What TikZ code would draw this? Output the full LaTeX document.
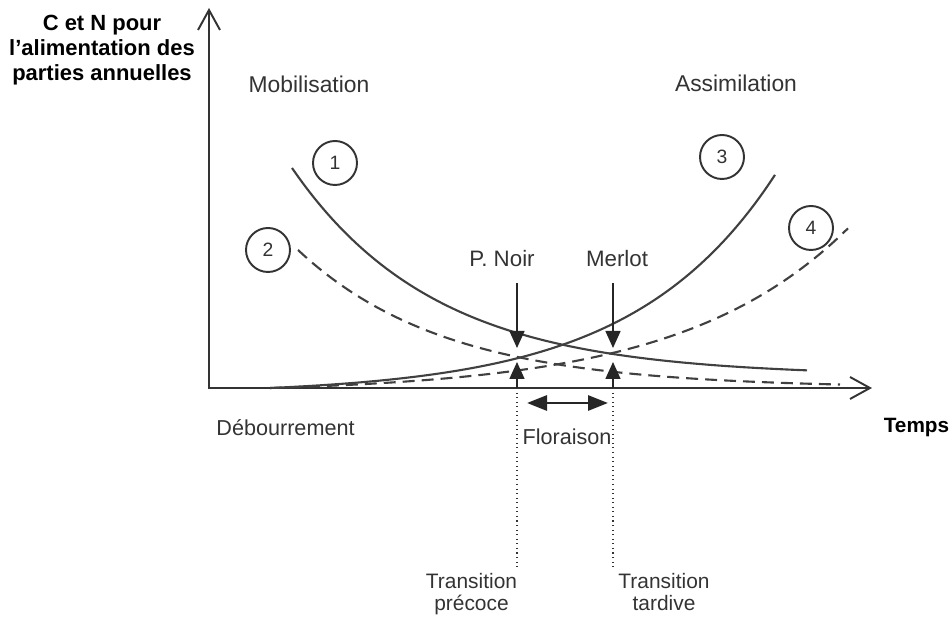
\documentclass[tikz,border=0pt]{standalone}
\usepackage{fontspec}
\setmainfont{Liberation Sans}
\usetikzlibrary{arrows.meta}

\begin{document}
\begin{tikzpicture}[x=0.2cm, y=0.2cm,
    axe/.style={line width=1.1pt, black!80, {Straight Barb[length=0.4cm, width=0.44cm]}-{Straight Barb[length=0.4cm, width=0.44cm]}},
    courbe/.style={line width=1.2pt, black!75, smooth, samples=80},
    tirets/.style={courbe, dash pattern=on 6.8pt off 4pt},
    numero/.style={circle, draw=black!80, line width=1.1pt, minimum size=0.88cm, inner sep=0pt, text=black!80, font=\fontsize{11}{12}\selectfont},
    etiquette/.style={inner sep=0pt, anchor=base, text=black!80, font=\fontsize{12.3}{14}\selectfont},
    fleche/.style={line width=0.9pt, black!85, -{Triangle[length=0.34cm, width=0.3cm]}},
    floraison/.style={line width=1.7pt, black!85, {Triangle[length=0.4cm, width=0.3cm]}-{Triangle[length=0.4cm, width=0.3cm]}},
    repere/.style={line width=0.6pt, black!80, dotted}]

    \useasboundingbox (0,0) rectangle (95.2,62);

    % Axes
    \coordinate (O) at (20.9,23.2);
    \coordinate (ytop) at (20.9,61.2);
    \coordinate (xend) at (87.2,23.2);
    \draw[axe] (ytop) -- (O) -- (xend);
    \node[anchor=north, align=center, inner sep=0pt, font=\bfseries\fontsize{12.5}{14.2}\selectfont] (titre) at (10.2,60.5)
        {C et N pour\\l’alimentation des\\parties annuelles};
    \node[etiquette, font=\bfseries\fontsize{11.8}{14}\selectfont, text=black] (temps) at (91.65,18.7) {Temps};
    \node[etiquette] (debourrement) at (28.55,18.4) {Débourrement};

    % Phases
    \node[etiquette, font=\fontsize{13}{15}\selectfont] (mobilisation) at (30.9,52.7) {Mobilisation};
    \node[etiquette, font=\fontsize{13}{15}\selectfont] (assimilation) at (73.6,52.8) {Assimilation};

    % Courbes
    \draw[courbe] plot[domain=29.2:80.7] (\x, {24.4+20.8*exp(-0.07*(\x-29.2))});
    \draw[tirets] plot[domain=29.8:84] (\x, {23.2+13.8*exp(-0.068*(\x-29.8))});
    \draw[courbe] plot[domain=27:77.5] (\x, {23.2+0.64*(exp(0.07*(\x-27))-1)});
    \draw[tirets] plot[domain=27:84.8] (\x, {23.2+0.514*(exp(0.06*(\x-27))-1)});

    % Numeros
    \foreach \n/\cx/\cy in {1/33.5/45.7, 2/26.8/37.0, 3/72.2/46.3, 4/81.1/39.2}
        \node[numero] (c\n) at (\cx,\cy) {\n};

    % Cepages
    \node[etiquette, font=\fontsize{12.7}{14}\selectfont] (pnoir) at (50.2,35.3) {P. Noir};
    \node[etiquette, font=\fontsize{12.7}{14}\selectfont] (merlot) at (61.7,35.3) {Merlot};

    % Transitions
    \foreach \nom/\cx in {P/51.7, M/61.3} {
        \coordinate (haut\nom) at (\cx,33.7);
        \coordinate (croix\nom) at (\cx,27.2);
        \coordinate (axe\nom) at (\cx,23.2);
        \coordinate (pointe\nom) at (\cx,25.8);
        \coordinate (bas\nom) at (\cx,5.2);
        \draw[fleche] (haut\nom) -- (croix\nom);
        \draw[fleche] (axe\nom) -- (pointe\nom);
        \draw[repere] (axe\nom) -- (bas\nom);
    }
    \node[anchor=north, align=center, inner sep=0pt, text=black!80, font=\fontsize{11.9}{12.5}\selectfont] (precoce) at (47.15,4.7)
        {Transition\\précoce};
    \node[anchor=north, align=center, inner sep=0pt, text=black!80, font=\fontsize{11.9}{12.5}\selectfont] (tardive) at (66.4,4.7)
        {Transition\\tardive};

    % Floraison
    \coordinate (debutF) at (52.7,21.7);
    \coordinate (finF) at (60.8,21.7);
    \draw[floraison] (debutF) -- (finF);
    \node[etiquette] (flor) at (56.7,17.5) {Floraison};
\end{tikzpicture}
\end{document}
